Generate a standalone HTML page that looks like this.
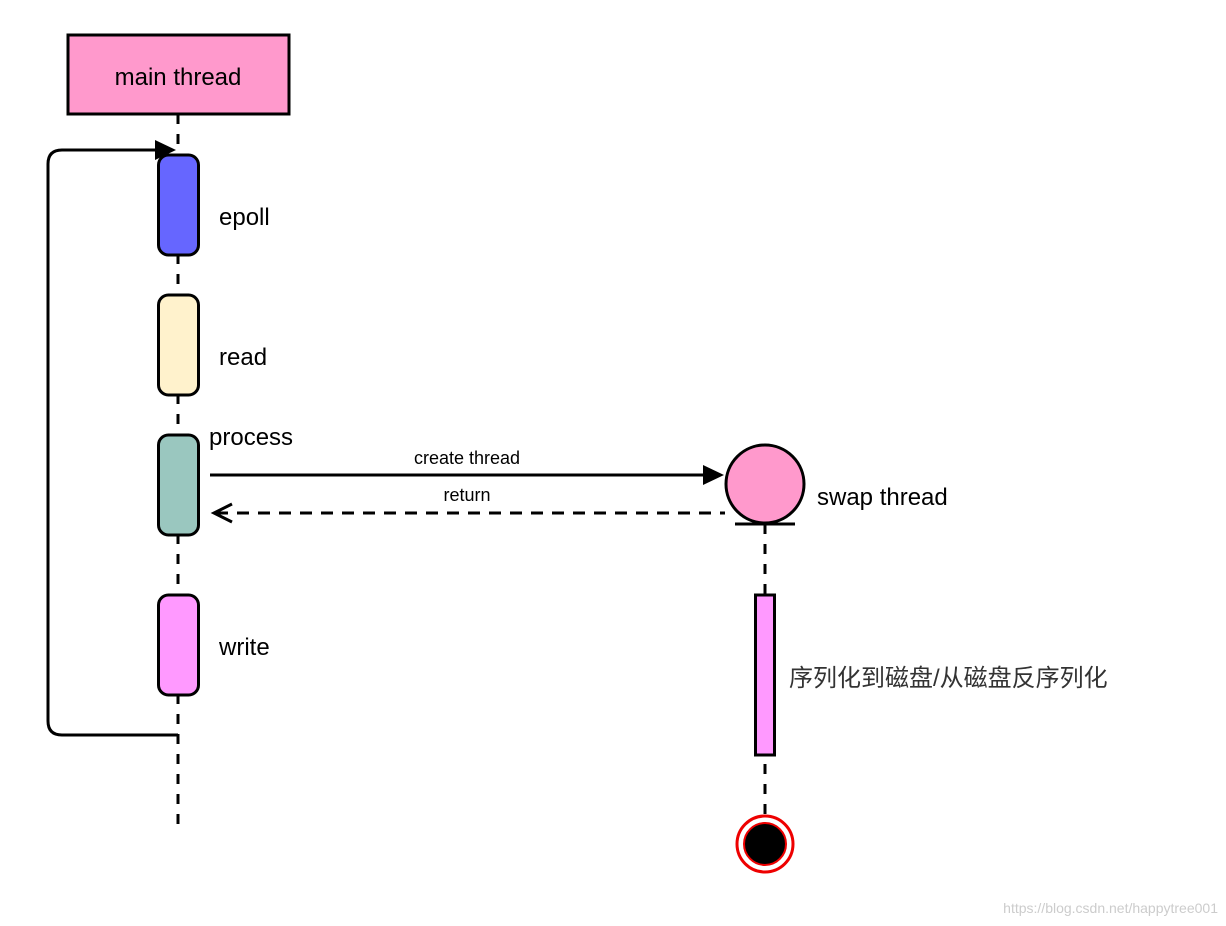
<!DOCTYPE html>
<html><head><meta charset="utf-8"><style>
html,body{margin:0;padding:0;background:#fff;}
svg{display:block;}
text{font-family:"Liberation Sans","Noto Sans CJK SC",sans-serif;fill:#000;}
</style></head><body>
<svg width="1226" height="926" viewBox="0 0 1226 926" xmlns="http://www.w3.org/2000/svg">
<line x1="178" y1="114" x2="178" y2="825" stroke="#000" stroke-width="3" stroke-dasharray="10,10"/>
<rect x="68" y="35" width="221" height="79" fill="#ff99cc" stroke="#000" stroke-width="3"/>
<text x="178" y="85" font-size="24" text-anchor="middle">main thread</text>
<path d="M178 735 H62 Q48 735 48 721 V164 Q48 150 62 150 H158" fill="none" stroke="#000" stroke-width="3"/>
<polygon points="155,140 176,150 155,160" fill="#000"/>
<rect x="158.5" y="155" width="40" height="100" rx="10" fill="#6666ff" stroke="#000" stroke-width="3"/>
<rect x="158.5" y="295" width="40" height="100" rx="10" fill="#fff2cc" stroke="#000" stroke-width="3"/>
<rect x="158.5" y="435" width="40" height="100" rx="10" fill="#9ac7bf" stroke="#000" stroke-width="3"/>
<rect x="158.5" y="595" width="40" height="100" rx="10" fill="#ff99ff" stroke="#000" stroke-width="3"/>
<text x="219" y="225" font-size="24">epoll</text>
<text x="219" y="365" font-size="24">read</text>
<text x="209" y="445" font-size="24">process</text>
<text x="219" y="655" font-size="24">write</text>
<line x1="210" y1="475" x2="706" y2="475" stroke="#000" stroke-width="3"/>
<polygon points="703,465 724,475 703,485" fill="#000"/>
<text x="467" y="464" font-size="18" text-anchor="middle">create thread</text>
<line x1="216" y1="513" x2="725" y2="513" stroke="#000" stroke-width="3" stroke-dasharray="12,9"/>
<polyline points="232,504 214,513 232,522" fill="none" stroke="#000" stroke-width="3"/>
<text x="467" y="501" font-size="18" text-anchor="middle">return</text>
<line x1="765" y1="524" x2="765" y2="825" stroke="#000" stroke-width="3" stroke-dasharray="10,10"/>
<circle cx="765" cy="484" r="39" fill="#ff99cc" stroke="#000" stroke-width="3"/>
<line x1="735" y1="524" x2="795" y2="524" stroke="#000" stroke-width="3"/>
<text x="817" y="505" font-size="24">swap thread</text>
<rect x="755.5" y="595" width="19" height="160" fill="#ff99ff" stroke="#000" stroke-width="3"/>
<text x="789" y="686" font-size="24" fill="#333" style="fill:#333">序列化到磁盘/从磁盘反序列化</text>
<circle cx="765" cy="844" r="28" fill="#fff" stroke="#e00" stroke-width="3"/>
<circle cx="765" cy="844" r="21" fill="#000" stroke="#e00" stroke-width="2"/>
<text x="1218" y="913" font-size="14" text-anchor="end" style="fill:#ccc">https://blog.csdn.net/happytree001</text>
</svg>
</body></html>
